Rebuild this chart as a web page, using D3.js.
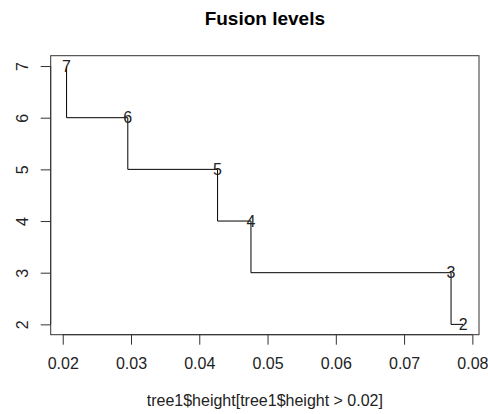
<!DOCTYPE html>
<html>
<head>
<meta charset="utf-8">
<script src="https://cdn.jsdelivr.net/npm/d3@7"></script>
<style>
  body { margin: 0; background: #fff; }
  text { font-family: "Liberation Sans", Arial, sans-serif; }
</style>
</head>
<body>
<div id="chart"></div>
<script>
const groups = [7, 6, 5, 4, 3, 2];
const heights = [0.02056, 0.02953, 0.04268, 0.04757, 0.07688, 0.07865];
const xTicks = [0.02, 0.03, 0.04, 0.05, 0.06, 0.07, 0.08];
const yTicks = [2, 3, 4, 5, 6, 7];

const width = 488, height = 414;
const box = { left: 50.7, right: 479, top: 55.7, bottom: 334.7 };

const svg = d3.select("#chart")
    .append("svg")
    .attr("width", width)
    .attr("height", height);

// R style 4% padding on the data range
const xr = d3.extent(heights), xp = (xr[1] - xr[0]) * 0.04;
const yr = d3.extent(groups), yp = (yr[1] - yr[0]) * 0.04;

const x = d3.scaleLinear([xr[0] - xp, xr[1] + xp], [box.left, box.right]);
const y = d3.scaleLinear([yr[0] - yp, yr[1] + yp], [box.bottom, box.top]);

const data = groups.map((g, i) => ({ h: heights[i], g: g }));

// frame
svg.append("rect")
    .attr("x", box.left)
    .attr("y", box.top)
    .attr("width", box.right - box.left)
    .attr("height", box.bottom - box.top)
    .attr("fill", "none")
    .attr("stroke", "#333")
    .attr("stroke-width", 1);

// x axis
const xAxis = svg.append("g")
    .attr("transform", "translate(0," + box.bottom + ")")
    .call(d3.axisBottom(x).tickValues(xTicks).tickSize(10).tickPadding(13).tickFormat(d3.format(".2f")));
xAxis.select(".domain")
    .attr("d", "M" + x(xTicks[0]) + ",0H" + x(xTicks[xTicks.length - 1]))
    .attr("stroke", "#333");
xAxis.selectAll(".tick line").attr("stroke", "#333");
xAxis.selectAll("text")
    .attr("font-size", 16)
    .attr("fill", "#222")
    .attr("font-family", "Liberation Sans, Arial, sans-serif");

// y axis
const yAxis = svg.append("g")
    .attr("transform", "translate(" + box.left + ",0)")
    .call(d3.axisLeft(y).tickValues(yTicks).tickSize(10).tickFormat(d3.format("d")));
yAxis.select(".domain")
    .attr("d", "M0," + y(yTicks[0]) + "V" + y(yTicks[yTicks.length - 1]))
    .attr("stroke", "#333");
yAxis.selectAll(".tick line").attr("stroke", "#333");
yAxis.selectAll("text")
    .attr("font-size", 16)
    .attr("fill", "#222")
    .attr("font-family", "Liberation Sans, Arial, sans-serif")
    .attr("text-anchor", "middle")
    .attr("dy", null)
    .attr("dominant-baseline", "central")
    .attr("x", null)
    .attr("transform", "translate(-28,0) rotate(-90)");

// step line
const line = d3.line()
    .x(d => x(d.h))
    .y(d => y(d.g))
    .curve(d3.curveStepBefore);

svg.append("path")
    .datum(data)
    .attr("d", line)
    .attr("fill", "none")
    .attr("stroke", "#000")
    .attr("stroke-width", 1);

// point labels
svg.append("g")
    .selectAll("text")
    .data(data)
    .enter()
    .append("text")
    .attr("x", d => x(d.h))
    .attr("y", d => y(d.g))
    .attr("text-anchor", "middle")
    .attr("dominant-baseline", "central")
    .attr("font-size", 16)
    .attr("fill", "#222")
    .text(d => d.g);

// titles
svg.append("text")
    .attr("x", (box.left + box.right) / 2)
    .attr("y", 25)
    .attr("text-anchor", "middle")
    .attr("font-size", 19)
    .attr("font-weight", "bold")
    .attr("fill", "#000")
    .text("Fusion levels");

svg.append("text")
    .attr("x", (box.left + box.right) / 2)
    .attr("y", 406)
    .attr("text-anchor", "middle")
    .attr("font-size", 16)
    .attr("fill", "#222")
    .text("tree1$height[tree1$height > 0.02]");
</script>
</body>
</html>
